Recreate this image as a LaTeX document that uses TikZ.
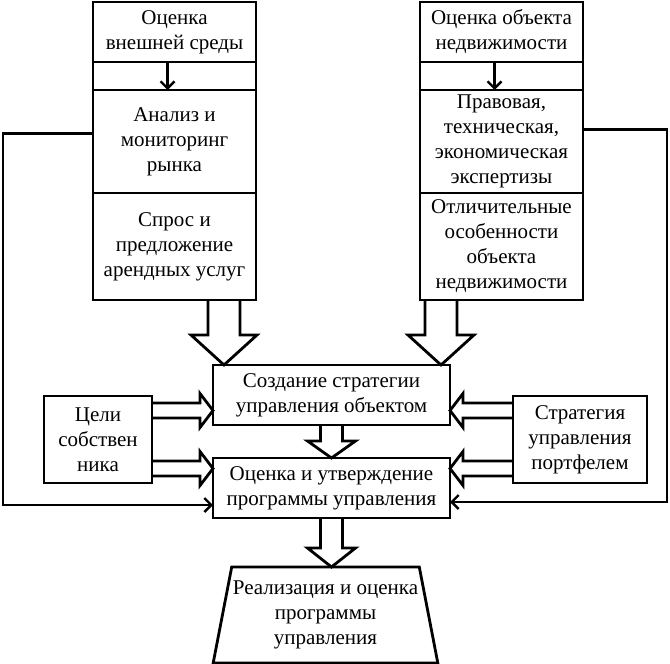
\documentclass[tikz,border=0pt]{standalone}
\usepackage{fontspec}
\setmainfont{Liberation Serif}
\usetikzlibrary{positioning,shapes.geometric,arrows.meta}

\tikzset{
  block/.style={draw, line width=1.4pt, align=center, inner sep=0pt, outer sep=0pt,
    font=\fontsize{10.5}{12.5}\selectfont},
  colbox/.style={block, minimum width=81.5pt},
  fat/.style={line width=1.4pt, line join=miter},
  fb/.style={line width=1.3pt, -{Straight Barb[length=3.5pt,width=7pt,line width=1.2pt]}},
  pics/fatarrow/.style args={#1/#2/#3/#4}{code={
    \draw[fat] (0,-#2) -- (#1-#4,-#2) -- (#1-#4,-#3) -- (#1,0) -- (#1-#4,#3) -- (#1-#4,#2) -- (0,#2);
  }}
}

\begin{document}
\begin{tikzpicture}[x=0.5pt, y=-0.5pt]
  \useasboundingbox (0,0) rectangle (670,664);
  % left column
  \node[colbox, minimum height=30pt] (ext) at (174.5,32) {Оценка\\внешней среды};
  \node[colbox, minimum height=14pt, below=0pt of ext] (gapl) {};
  \node[colbox, minimum height=51.5pt, below=0pt of gapl] (mkt) {Анализ и\\мониторинг\\рынка};
  \node[colbox, minimum height=53.5pt, below=0pt of mkt] (dem) {Спрос и\\предложение\\арендных услуг};
  % right column
  \node[colbox, minimum height=30pt] (obj) at (501.5,32) {Оценка объекта\\недвижимости};
  \node[colbox, minimum height=14pt, below=0pt of obj] (gapr) {};
  \node[colbox, minimum height=51.5pt, below=0pt of gapr] (exp) {Правовая,\\техническая,\\экономическая\\экспертизы};
  \node[colbox, minimum height=53.5pt, below=0pt of exp] (feat) {Отличительные\\особенности\\объекта\\недвижимости};
  % middle
  \node[block, minimum width=118.5pt, minimum height=30pt] (strat) at (331.5,395) {Создание стратегии\\управления объектом};
  \node[block, minimum width=118.5pt, minimum height=30pt] (appr) at (331.5,488) {Оценка и утверждение\\программы управления};
  \node[block, minimum width=54pt, minimum height=43.5pt] (goals) at (98,439.5) {Цели\\собствен\\ника};
  \node[block, minimum width=67pt, minimum height=43.5pt] (port) at (580,439.5) {Стратегия\\управления\\портфелем};
  \node[block, trapezium, trapezium left angle=75, trapezium right angle=75, trapezium stretches=true,
    minimum width=112.5pt, minimum height=48pt] (impl) at (325.5,615) {Реализация и оценка\\программы\\управления};

  % small arrows inside the columns
  \draw[fb] ([xshift=-3.5pt]ext.south) -- ([xshift=-3.5pt]mkt.north);
  \draw[fb] ([xshift=-3.5pt]obj.south) -- ([xshift=-3.5pt]exp.north);

  % wide arrows
  \pic[rotate=-90] at ([xshift=-16pt]dem.south east) {fatarrow=65/16/33/30};
  \pic[rotate=-90] at ([xshift=10.5pt]feat.south west) {fatarrow=65/16/33/30};
  \pic[rotate=-90] at (strat.south) {fatarrow=33/11/24/17};
  \pic[rotate=-90] at (appr.south) {fatarrow=49/11/24/19};
  \pic at ([yshift=14.5pt]goals.east) {fatarrow=61/7.5/17/13};
  \pic at ([yshift=-14.5pt]goals.east) {fatarrow=61/7.5/17/13};
  \pic[rotate=180] at ([yshift=14.5pt]port.west) {fatarrow=63/7.5/17/13};
  \pic[rotate=180] at ([yshift=-14.5pt]port.west) {fatarrow=63/7.5/17/13};

  % feedback lines
  \draw[fb] ([yshift=4pt]mkt.west) -- ++(-90,0) |- ([yshift=-8.5pt]appr.west);
  \draw[fb] ([yshift=6pt]exp.east) -- ++(84,0) |- ([yshift=-7pt]appr.east);
\end{tikzpicture}
\end{document}
